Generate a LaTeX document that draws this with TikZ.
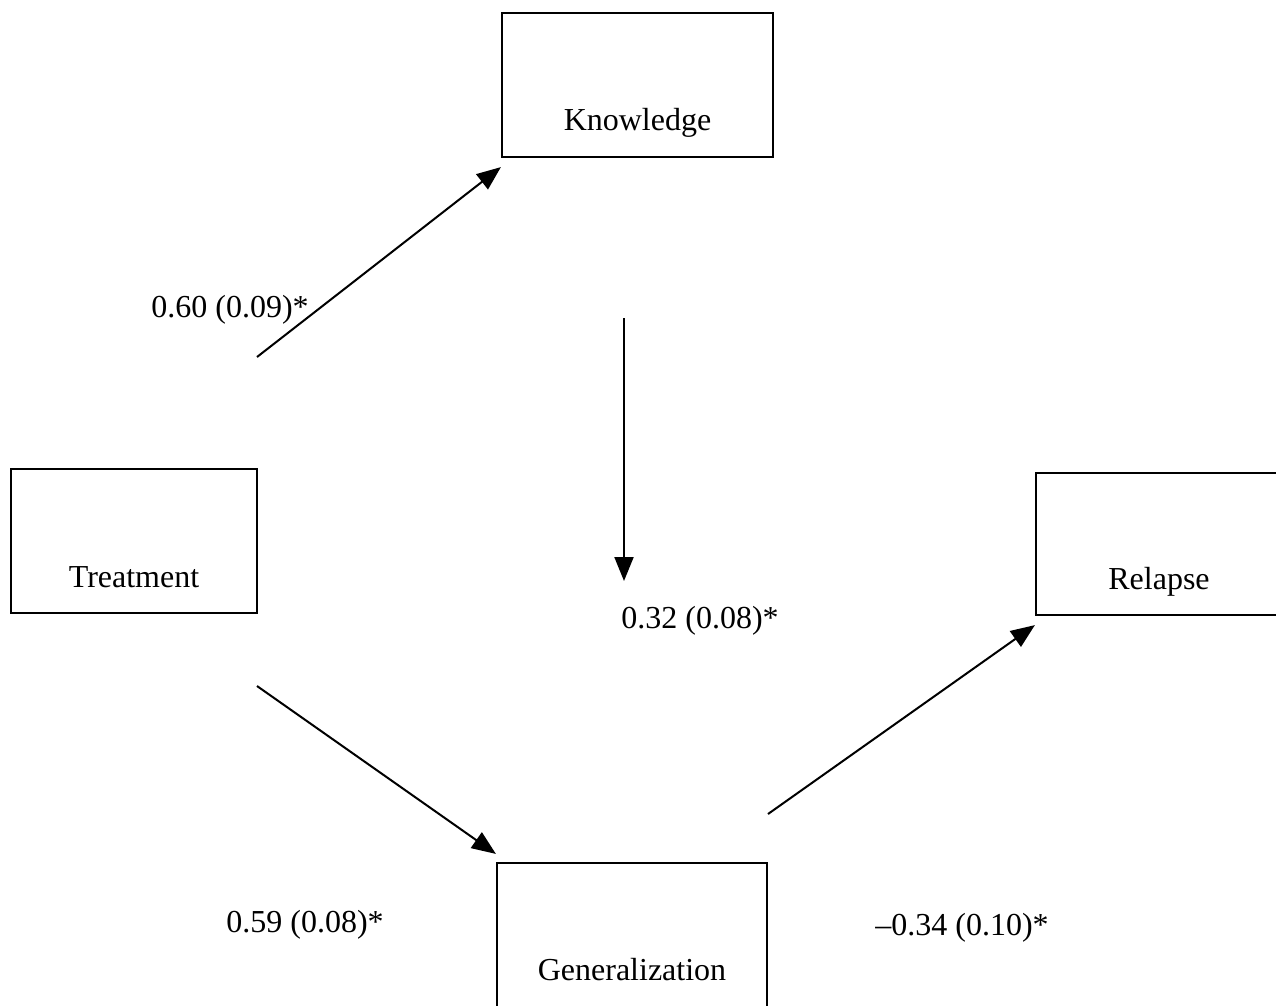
\documentclass[tikz,border=0pt]{standalone}
\usepackage{fontspec}
\setmainfont{Liberation Serif}
\usetikzlibrary{arrows.meta}
\begin{document}
\begin{tikzpicture}[x=1pt,y=-1pt,
  every node/.style={font=\fontsize{32}{38}\selectfont},
  box/.style={draw, line width=2.2pt, rectangle, inner sep=0pt},
  txt/.style={anchor=base, inner sep=0pt},
  conn/.style={line width=2pt, -{Triangle[length=24pt,width=19pt]}}]
\useasboundingbox (0,0) rectangle (1276,1005);
\clip (0,0) rectangle (1276,1005);
\fill[white] (0,0) rectangle (1276,1005);
% boxes
\node[box, minimum width=271pt, minimum height=144pt,
  label={[txt, yshift=-38pt]center:Knowledge}] (know) at (637.5,85) {};
\node[box, minimum width=246pt, minimum height=144pt,
  label={[txt, yshift=-36pt]center:Treatment}] (treat) at (134,541) {};
\node[box, minimum width=246pt, minimum height=142pt,
  label={[txt, yshift=-38pt]center:Relapse}] (rel) at (1159,544) {};
\node[box, minimum width=270pt, minimum height=147pt,
  label={[txt, yshift=-33pt]center:Generalization}] (gen) at (632,936.5) {};
% free ends
\coordinate (a1) at (257,357);
\coordinate (v1) at (624,318);
\coordinate (v2) at (624,581);
\coordinate (b1) at (257,686);
\coordinate (c1) at (768,814);
% connectors
\draw[conn] (a1) -- ([yshift=-9pt]know.south west);
\draw[conn] (v1) -- (v2);
\draw[conn] (b1) -- ([yshift=8pt]gen.north west);
\draw[conn] (c1) -- ([yshift=-9pt]rel.south west);
% labels
\node[txt] (l1) at (230,317) {0.60 (0.09)*};
\node[txt] (l2) at (700,628) {0.32 (0.08)*};
\node[txt] (l3) at (305,932) {0.59 (0.08)*};
\node[txt] (l4) at (962,935) {–0.34 (0.10)*};
\end{tikzpicture}
\end{document}
